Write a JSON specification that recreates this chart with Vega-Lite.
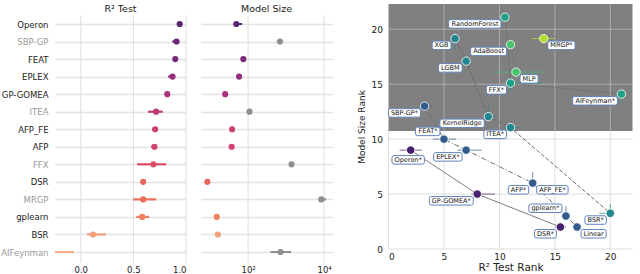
{
  "$schema": "https://vega.github.io/schema/vega-lite/v6.json",
  "padding": {"left": 0, "top": 3, "right": 0, "bottom": 0},
  "background": "white",
  "config": {
    "view": {"stroke": null},
    "font": "DejaVu Sans",
    "axis": {"domain": false, "ticks": false, "labelFont": "DejaVu Sans", "titleFont": "DejaVu Sans", "labelColor": "#222222", "titleColor": "#222222", "titleFontWeight": "normal"},
    "title": {"font": "DejaVu Sans", "fontSize": 9.5, "fontWeight": "normal", "color": "#222222"}
  },
  "datasets": {
    "algos": [
      {"name": "Operon", "r2": 0.94, "r2lo": 0.925, "r2hi": 0.96, "size": 49, "sizelo": 45, "sizehi": 70},
      {"name": "SBP-GP", "r2": 0.91, "r2lo": 0.87, "r2hi": 0.935, "size": 690, "sizelo": 690, "sizehi": 690},
      {"name": "FEAT", "r2": 0.898, "r2lo": 0.885, "r2hi": 0.91, "size": 75, "sizelo": 75, "sizehi": 75},
      {"name": "EPLEX", "r2": 0.872, "r2lo": 0.83, "r2hi": 0.895, "size": 58, "sizelo": 58, "sizehi": 58},
      {"name": "GP-GOMEA", "r2": 0.822, "r2lo": 0.805, "r2hi": 0.84, "size": 25, "sizelo": 25, "sizehi": 25},
      {"name": "ITEA", "r2": 0.717, "r2lo": 0.64, "r2hi": 0.78, "size": 109, "sizelo": 109, "sizehi": 109},
      {"name": "AFP_FE", "r2": 0.707, "r2lo": 0.68, "r2hi": 0.73, "size": 38, "sizelo": 38, "sizehi": 38},
      {"name": "AFP", "r2": 0.70, "r2lo": 0.67, "r2hi": 0.725, "size": 37, "sizelo": 37, "sizehi": 37},
      {"name": "FFX", "r2": 0.69, "r2lo": 0.536, "r2hi": 0.812, "size": 1390, "sizelo": 1390, "sizehi": 1390},
      {"name": "DSR", "r2": 0.593, "r2lo": 0.575, "r2hi": 0.61, "size": 8.5, "sizelo": 8.5, "sizehi": 8.5},
      {"name": "MRGP", "r2": 0.593, "r2lo": 0.498, "r2hi": 0.717, "size": 8400, "sizelo": 8000, "sizehi": 11300},
      {"name": "gplearn", "r2": 0.584, "r2lo": 0.527, "r2hi": 0.65, "size": 15, "sizelo": 15, "sizehi": 15},
      {"name": "BSR", "r2": 0.117, "r2lo": 0.06, "r2hi": 0.24, "size": 16, "sizelo": 16, "sizehi": 16},
      {"name": "AIFeynman", "r2": -0.5, "r2lo": -1.2, "r2hi": -0.065, "size": 713, "sizelo": 388, "sizehi": 1360}
    ],
    "ranks": [
      {"label": "Operon*", "xr": 2, "yr": 9, "front": 1, "xlo": 1.0, "xhi": 3.0, "ylo": 9, "yhi": 9},
      {"label": "GP-GOMEA*", "xr": 8, "yr": 5, "front": 1, "xlo": 7.5, "xhi": 9.6, "ylo": 5, "yhi": 5},
      {"label": "DSR*", "xr": 15.5, "yr": 2, "front": 1, "xlo": 15, "xhi": 16, "ylo": 2, "yhi": 2},
      {"label": "SBP-GP*", "xr": 3.25, "yr": 13, "front": 2, "xlo": 2.9, "xhi": 4.0, "ylo": 13, "yhi": 13},
      {"label": "FEAT*", "xr": 5, "yr": 10, "front": 2, "xlo": 4.0, "xhi": 6.1, "ylo": 10, "yhi": 10},
      {"label": "EPLEX*", "xr": 7, "yr": 9, "front": 2, "xlo": 6.2, "xhi": 8.4, "ylo": 9, "yhi": 9},
      {"label": "AFP*", "xr": 13, "yr": 6, "front": 2, "xlo": 13, "xhi": 13, "ylo": 6, "yhi": 7.0},
      {"label": "AFP_FE*", "xr": 13, "yr": 6, "front": 2, "xlo": 13, "xhi": 13, "ylo": 6, "yhi": 6},
      {"label": "gplearn*", "xr": 16, "yr": 3, "front": 2, "xlo": 16, "xhi": 16, "ylo": 2.6, "yhi": 3.9},
      {"label": "Linear", "xr": 17, "yr": 2, "front": 2, "xlo": 17, "xhi": 17, "ylo": 2, "yhi": 2},
      {"label": "XGB", "xr": 6, "yr": 19.15, "front": 3, "xlo": 6, "xhi": 6, "ylo": 18.1, "yhi": 19.15},
      {"label": "LGBM", "xr": 7, "yr": 17.1, "front": 3, "xlo": 7, "xhi": 7, "ylo": 17.1, "yhi": 17.1},
      {"label": "KernelRidge", "xr": 9, "yr": 12.05, "front": 3, "xlo": 8.6, "xhi": 9.8, "ylo": 12.05, "yhi": 13.0},
      {"label": "ITEA*", "xr": 11, "yr": 11.05, "front": 3, "xlo": 10.4, "xhi": 11.9, "ylo": 11.05, "yhi": 11.05},
      {"label": "BSR*", "xr": 20, "yr": 3.25, "front": 3, "xlo": 19.0, "xhi": 20, "ylo": 3.25, "yhi": 4.1},
      {"label": "RandomForest", "xr": 10.5, "yr": 21.1, "front": 4, "xlo": 10.5, "xhi": 10.5, "ylo": 21.1, "yhi": 21.1},
      {"label": "FFX*", "xr": 11, "yr": 15.1, "front": 4, "xlo": 11, "xhi": 13.8, "ylo": 14.4, "yhi": 15.1},
      {"label": "AIFeynman*", "xr": 21, "yr": 14.1, "front": 4, "xlo": 21, "xhi": 21, "ylo": 13.3, "yhi": 14.1},
      {"label": "AdaBoost", "xr": 11, "yr": 18.6, "front": 5, "xlo": 11, "xhi": 11, "ylo": 18.6, "yhi": 18.6},
      {"label": "MLP", "xr": 11.5, "yr": 16.1, "front": 5, "xlo": 9.4, "xhi": 14.0, "ylo": 16.1, "yhi": 16.1},
      {"label": "MRGP*", "xr": 14, "yr": 19.15, "front": 6, "xlo": 12.9, "xhi": 15.0, "ylo": 19.15, "yhi": 19.15}
    ],
    "grid": [{"g": 0}, {"g": 5}, {"g": 10}, {"g": 15}, {"g": 20}],
    "r2ticks": [{"t": 0}, {"t": 0.5}, {"t": 1}],
    "sizeticks": [{"t": 100}, {"t": 10000}]
  },
  "resolve": {"scale": {"x": "independent", "y": "independent", "color": "independent", "shape": "independent", "strokeDash": "independent"}},
  "spacing": 23.5,
  "hconcat": [
    {
      "spacing": 13.5,
      "resolve": {"scale": {"x": "independent", "y": "independent", "color": "independent"}},
      "hconcat": [
        {
          "title": {"text": "R² Test", "offset": -9},
          "width": 131,
          "height": 259,
          "layer": [
            {"data": {"name": "r2ticks"}, "mark": {"type": "rule", "color": "#dedede", "strokeWidth": 1, "yOffset": -8.5, "y2Offset": 11},
             "encoding": {
               "x": {"field": "t", "type": "quantitative", "title": null, "scale": {"domain": [-0.245, 1.0], "nice": false, "zero": false},
                 "axis": {"values": [0, 0.5, 1], "format": ".1f", "title": null, "grid": false, "labelFontSize": 8.5, "labelPadding": 2}},
               "y": {"datum": "Operon", "type": "nominal", "scale": {"type": "point", "range": [20, 248], "padding": 0}, "title": null},
               "y2": {"datum": "AIFeynman"}}},
            {"data": {"name": "algos"}, "mark": {"type": "rule", "strokeWidth": 2.2, "clip": true},
             "encoding": {
               "x": {"field": "r2lo", "type": "quantitative", "title": null, "scale": {"domain": [-0.245, 1.0], "nice": false, "zero": false}},
               "x2": {"field": "r2hi"},
               "y": {"field": "name", "type": "nominal", "sort": ["Operon", "SBP-GP", "FEAT", "EPLEX", "GP-GOMEA", "ITEA", "AFP_FE", "AFP", "FFX", "DSR", "MRGP", "gplearn", "BSR", "AIFeynman"], "scale": {"type": "point", "range": [20, 248], "padding": 0},
                 "axis": {"title": null, "grid": true, "gridColor": "#e3e3e3", "gridWidth": 1.5, "labelFontSize": 8.5, "labelPadding": 7,
                   "labelColor": {"condition": {"test": "indexof(['SBP-GP','ITEA','FFX','MRGP','AIFeynman'], datum.value) >= 0", "value": "#999999"}, "value": "#222222"}}},
               "color": {"field": "name", "type": "nominal", "legend": null,
                 "scale": {"domain": ["Operon", "SBP-GP", "FEAT", "EPLEX", "GP-GOMEA", "ITEA", "AFP_FE", "AFP", "FFX", "DSR", "MRGP", "gplearn", "BSR", "AIFeynman"],
                   "range": ["#5a2474", "#6a2878", "#79297a", "#922d7c", "#aa327c", "#c03a78", "#cb3e72", "#d3446c", "#db4d66", "#e6665e", "#ea705a", "#ee8262", "#f29f7a", "#f5ac8a"]}}}},
            {"data": {"name": "algos"}, "mark": {"type": "circle", "size": 38, "opacity": 1, "clip": true},
             "encoding": {
               "x": {"field": "r2", "type": "quantitative", "title": null, "scale": {"domain": [-0.245, 1.0], "nice": false, "zero": false}},
               "y": {"field": "name", "type": "nominal", "sort": ["Operon", "SBP-GP", "FEAT", "EPLEX", "GP-GOMEA", "ITEA", "AFP_FE", "AFP", "FFX", "DSR", "MRGP", "gplearn", "BSR", "AIFeynman"], "scale": {"type": "point", "range": [20, 248], "padding": 0}, "title": null},
               "color": {"field": "name", "type": "nominal", "legend": null,
                 "scale": {"domain": ["Operon", "SBP-GP", "FEAT", "EPLEX", "GP-GOMEA", "ITEA", "AFP_FE", "AFP", "FFX", "DSR", "MRGP", "gplearn", "BSR", "AIFeynman"],
                   "range": ["#5a2474", "#6a2878", "#79297a", "#922d7c", "#aa327c", "#c03a78", "#cb3e72", "#d3446c", "#db4d66", "#e6665e", "#ea705a", "#ee8262", "#f29f7a", "#f5ac8a"]}}}}
          ]
        },
        {
          "title": {"text": "Model Size", "offset": -9},
          "width": 132,
          "height": 259,
          "layer": [
            {"data": {"name": "sizeticks"}, "mark": {"type": "rule", "color": "#dedede", "strokeWidth": 1, "yOffset": -8.5, "y2Offset": 11},
             "encoding": {
               "x": {"field": "t", "type": "quantitative", "title": null, "scale": {"type": "log", "domain": [5.6, 16600], "nice": false},
                 "axis": {"values": [100, 10000], "labelExpr": "datum.value == 100 ? '10²' : '10⁴'", "title": null, "grid": false, "labelFontSize": 8.5, "labelPadding": 2}},
               "y": {"datum": "Operon", "type": "nominal", "scale": {"type": "point", "range": [20, 248], "padding": 0}, "title": null},
               "y2": {"datum": "AIFeynman"}}},
            {"data": {"name": "algos"}, "mark": {"type": "rule", "strokeWidth": 2.2, "clip": true},
             "encoding": {
               "x": {"field": "sizelo", "type": "quantitative", "title": null, "scale": {"type": "log", "domain": [5.6, 16600], "nice": false}},
               "x2": {"field": "sizehi"},
               "y": {"field": "name", "type": "nominal", "sort": ["Operon", "SBP-GP", "FEAT", "EPLEX", "GP-GOMEA", "ITEA", "AFP_FE", "AFP", "FFX", "DSR", "MRGP", "gplearn", "BSR", "AIFeynman"], "scale": {"type": "point", "range": [20, 248], "padding": 0},
                 "axis": {"title": null, "grid": true, "gridColor": "#e3e3e3", "gridWidth": 1.5, "labels": false}},
               "color": {"condition": {"test": "indexof(['SBP-GP','ITEA','FFX','MRGP','AIFeynman'], datum.name) >= 0", "value": "#8f8f8f"},
                 "field": "name", "type": "nominal", "legend": null,
                 "scale": {"domain": ["Operon", "SBP-GP", "FEAT", "EPLEX", "GP-GOMEA", "ITEA", "AFP_FE", "AFP", "FFX", "DSR", "MRGP", "gplearn", "BSR", "AIFeynman"],
                   "range": ["#5a2474", "#6a2878", "#79297a", "#922d7c", "#aa327c", "#c03a78", "#cb3e72", "#d3446c", "#db4d66", "#e6665e", "#ea705a", "#ee8262", "#f29f7a", "#f5ac8a"]}}}},
            {"data": {"name": "algos"}, "mark": {"type": "circle", "size": 38, "opacity": 1, "clip": true},
             "encoding": {
               "x": {"field": "size", "type": "quantitative", "title": null, "scale": {"type": "log", "domain": [5.6, 16600], "nice": false}},
               "y": {"field": "name", "type": "nominal", "sort": ["Operon", "SBP-GP", "FEAT", "EPLEX", "GP-GOMEA", "ITEA", "AFP_FE", "AFP", "FFX", "DSR", "MRGP", "gplearn", "BSR", "AIFeynman"], "scale": {"type": "point", "range": [20, 248], "padding": 0}, "title": null},
               "color": {"condition": {"test": "indexof(['SBP-GP','ITEA','FFX','MRGP','AIFeynman'], datum.name) >= 0", "value": "#8f8f8f"},
                 "field": "name", "type": "nominal", "legend": null,
                 "scale": {"domain": ["Operon", "SBP-GP", "FEAT", "EPLEX", "GP-GOMEA", "ITEA", "AFP_FE", "AFP", "FFX", "DSR", "MRGP", "gplearn", "BSR", "AIFeynman"],
                   "range": ["#5a2474", "#6a2878", "#79297a", "#922d7c", "#aa327c", "#c03a78", "#cb3e72", "#d3446c", "#db4d66", "#e6665e", "#ea705a", "#ee8262", "#f29f7a", "#f5ac8a"]}}}}
          ]
        }
      ]
    },
    {
      "width": 244,
      "height": 245,
      "layer": [
        {"data": {"values": [{}]}, "mark": {"type": "rect", "color": "#808080", "opacity": 1},
         "encoding": {"x": {"datum": 0, "type": "quantitative", "title": "R² Test Rank", "scale": {"domain": [0, 22], "nice": false, "zero": false}},
           "x2": {"datum": 22},
           "y": {"datum": 10.75, "type": "quantitative", "title": "Model Size Rank", "scale": {"domain": [0, 22.3], "nice": false, "zero": false}},
           "y2": {"datum": 22.3}}},
        {"data": {"name": "grid"}, "mark": {"type": "rule", "color": "#c6c6c6", "opacity": 0.6, "strokeWidth": 1},
         "encoding": {"x": {"field": "g", "type": "quantitative", "title": "R² Test Rank", "scale": {"domain": [0, 22], "nice": false, "zero": false}}}},
        {"data": {"name": "grid"}, "mark": {"type": "rule", "color": "#c6c6c6", "opacity": 0.6, "strokeWidth": 1},
         "encoding": {"y": {"field": "g", "type": "quantitative", "title": "Model Size Rank", "scale": {"domain": [0, 22.3], "nice": false, "zero": false}}}},
        {"data": {"name": "ranks"}, "mark": {"type": "rule", "strokeWidth": 1, "opacity": 0.7},
         "encoding": {"x": {"field": "xlo", "type": "quantitative", "title": "R² Test Rank", "scale": {"domain": [0, 22], "nice": false, "zero": false}},
           "x2": {"field": "xhi"},
           "y": {"field": "yr", "type": "quantitative", "title": "Model Size Rank", "scale": {"domain": [0, 22.3], "nice": false, "zero": false}},
           "color": {"field": "front", "type": "ordinal", "legend": null, "scale": {"domain": [1, 2, 3, 4, 5, 6], "range": ["#46226e", "#325a8c", "#21868d", "#1fa187", "#4ac16d", "#b5de2b"]}}}},
        {"data": {"name": "ranks"}, "mark": {"type": "rule", "strokeWidth": 1, "opacity": 0.7},
         "encoding": {"x": {"field": "xr", "type": "quantitative", "title": "R² Test Rank", "scale": {"domain": [0, 22], "nice": false, "zero": false}},
           "y": {"field": "ylo", "type": "quantitative", "title": "Model Size Rank", "scale": {"domain": [0, 22.3], "nice": false, "zero": false}},
           "y2": {"field": "yhi"},
           "color": {"field": "front", "type": "ordinal", "legend": null, "scale": {"domain": [1, 2, 3, 4, 5, 6], "range": ["#46226e", "#325a8c", "#21868d", "#1fa187", "#4ac16d", "#b5de2b"]}}}},
        {"data": {"name": "ranks"}, "mark": {"type": "line", "color": "#6a6a6a", "strokeWidth": 1},
         "encoding": {"x": {"field": "xr", "type": "quantitative", "title": "R² Test Rank", "scale": {"domain": [0, 22], "nice": false, "zero": false}},
           "y": {"field": "yr", "type": "quantitative", "title": "Model Size Rank", "scale": {"domain": [0, 22.3], "nice": false, "zero": false}},
           "detail": {"field": "front", "type": "ordinal"},
           "strokeDash": {"field": "front", "type": "ordinal", "legend": null, "scale": {"domain": [1, 2, 3, 4, 5, 6], "range": [[1, 0], [5, 2, 1, 2], [4, 2], [1.5, 1.5], [1.5, 1.5], [1, 0]]}},
           "order": {"field": "xr", "type": "quantitative"}}},
        {"data": {"name": "ranks"}, "mark": {"type": "circle", "size": 70, "opacity": 1, "stroke": "white", "strokeWidth": 0.8},
         "encoding": {"x": {"field": "xr", "type": "quantitative", "title": "R² Test Rank", "scale": {"domain": [0, 22], "nice": false, "zero": false},
             "axis": {"values": [0, 5, 10, 15, 20], "grid": false, "labelFontSize": 9, "labelPadding": 3, "title": "R² Test Rank", "titleFontSize": 10.5, "titlePadding": 1}},
           "y": {"field": "yr", "type": "quantitative", "title": "Model Size Rank", "scale": {"domain": [0, 22.3], "nice": false, "zero": false},
             "axis": {"values": [0, 5, 10, 15, 20], "grid": false, "labelFontSize": 9, "labelPadding": 6, "title": "Model Size Rank", "titleFontSize": 9, "titlePadding": 5}},
           "color": {"field": "front", "type": "ordinal", "legend": null, "scale": {"domain": [1, 2, 3, 4, 5, 6], "range": ["#46226e", "#325a8c", "#21868d", "#1fa187", "#4ac16d", "#b5de2b"]}}}},
        {"data": {"name": "ranks"}, "mark": {"type": "point", "filled": true, "fill": "white", "stroke": "#5f83bd", "strokeWidth": 1, "size": 4, "opacity": 1},
         "encoding": {"x": {"field": "xr", "type": "quantitative", "title": "R² Test Rank", "scale": {"domain": [0, 22], "nice": false, "zero": false}},
           "y": {"field": "yr", "type": "quantitative", "title": "Model Size Rank", "scale": {"domain": [0, 22.3], "nice": false, "zero": false}},
           "shape": {"field": "label", "type": "nominal", "legend": null,
             "scale": {
               "domain": ["RandomForest", "XGB", "LGBM", "AdaBoost", "AIFeynman*", "SBP-GP*", "KernelRidge", "ITEA*", "EPLEX*", "AFP*", "BSR*", "DSR*", "GP-GOMEA*", "FFX*", "MRGP*", "MLP", "AFP_FE*", "Linear", "FEAT*", "gplearn*", "Operon*"],
               "range": [
                 "M-54.4 2.5H-6Q-4 2.5 -4 4.5V9Q-4 11 -6 11H-54.4Q-56.4 11 -56.4 9V4.5Q-56.4 2.5 -54.4 2.5Z",
                 "M-20.9 2.5H-6Q-4 2.5 -4 4.5V9Q-4 11 -6 11H-20.9Q-22.9 11 -22.9 9V4.5Q-22.9 2.5 -20.9 2.5Z",
                 "M-25.7 2.5H-6Q-4 2.5 -4 4.5V9Q-4 11 -6 11H-25.7Q-27.7 11 -27.7 9V4.5Q-27.7 2.5 -25.7 2.5Z",
                 "M-37.9 2.5H-6Q-4 2.5 -4 4.5V9Q-4 11 -6 11H-37.9Q-39.9 11 -39.9 9V4.5Q-39.9 2.5 -37.9 2.5Z",
                 "M-46.8 2.5H-6Q-4 2.5 -4 4.5V9Q-4 11 -6 11H-46.8Q-48.8 11 -48.8 9V4.5Q-48.8 2.5 -46.8 2.5Z",
                 "M-34.1 2.5H-6Q-4 2.5 -4 4.5V9Q-4 11 -6 11H-34.1Q-36.1 11 -36.1 9V4.5Q-36.1 2.5 -34.1 2.5Z",
                 "M-46.4 2.5H-6Q-4 2.5 -4 4.5V9Q-4 11 -6 11H-46.4Q-48.4 11 -48.4 9V4.5Q-48.4 2.5 -46.4 2.5Z",
                 "M-24.7 2.5H-6Q-4 2.5 -4 4.5V9Q-4 11 -6 11H-24.7Q-26.7 11 -26.7 9V4.5Q-26.7 2.5 -24.7 2.5Z",
                 "M-30.5 2.5H-6Q-4 2.5 -4 4.5V9Q-4 11 -6 11H-30.5Q-32.5 11 -32.5 9V4.5Q-32.5 2.5 -30.5 2.5Z",
                 "M-22.4 2.5H-6Q-4 2.5 -4 4.5V9Q-4 11 -6 11H-22.4Q-24.4 11 -24.4 9V4.5Q-24.4 2.5 -22.4 2.5Z",
                 "M-23.4 2.5H-6Q-4 2.5 -4 4.5V9Q-4 11 -6 11H-23.4Q-25.4 11 -25.4 9V4.5Q-25.4 2.5 -23.4 2.5Z",
                 "M-23.9 2.5H-6Q-4 2.5 -4 4.5V9Q-4 11 -6 11H-23.9Q-25.9 11 -25.9 9V4.5Q-25.9 2.5 -23.9 2.5Z",
                 "M-45.9 2.5H-6Q-4 2.5 -4 4.5V9Q-4 11 -6 11H-45.9Q-47.9 11 -47.9 9V4.5Q-47.9 2.5 -45.9 2.5Z",
                 "M-22.2 2.5H-6Q-4 2.5 -4 4.5V9Q-4 11 -6 11H-22.2Q-24.2 11 -24.2 9V4.5Q-24.2 2.5 -22.2 2.5Z",
                 "M6 2.5H29.3Q31.3 2.5 31.3 4.5V9Q31.3 11 29.3 11H6Q4 11 4 9V4.5Q4 2.5 6 2.5Z",
                 "M6 2.5H20.1Q22.1 2.5 22.1 4.5V9Q22.1 11 20.1 11H6Q4 11 4 9V4.5Q4 2.5 6 2.5Z",
                 "M6 2.5H33.4Q35.4 2.5 35.4 4.5V9Q35.4 11 33.4 11H6Q4 11 4 9V4.5Q4 2.5 6 2.5Z",
                 "M6 2.5H27.2Q29.2 2.5 29.2 4.5V9Q29.2 11 27.2 11H6Q4 11 4 9V4.5Q4 2.5 6 2.5Z",
                 "M-26.5 -12H-6Q-4 -12 -4 -10V-5.5Q-4 -3.5 -6 -3.5H-26.5Q-28.5 -3.5 -28.5 -5.5V-10Q-28.5 -12 -26.5 -12Z",
                 "M-35.1 -12H-6Q-4 -12 -4 -10V-5.5Q-4 -3.5 -6 -3.5H-35.1Q-37.1 -3.5 -37.1 -5.5V-10Q-37.1 -12 -35.1 -12Z",
                 "M-16.7 5.5H11.7Q13.7 5.5 13.7 7.5V12Q13.7 14 11.7 14H-16.7Q-18.7 14 -18.7 12V7.5Q-18.7 5.5 -16.7 5.5Z"
               ]}}}},
        {"data": {"name": "ranks"},
         "transform": [{"filter": {"field": "label", "oneOf": ["RandomForest", "XGB", "LGBM", "AdaBoost", "AIFeynman*", "SBP-GP*", "KernelRidge", "ITEA*", "EPLEX*", "AFP*", "BSR*", "DSR*", "GP-GOMEA*", "FFX*"]}}],
         "mark": {"type": "text", "align": "right", "baseline": "middle", "dx": -6.5, "dy": 6.75, "fontSize": 6.5, "font": "DejaVu Sans", "color": "#111111"},
         "encoding": {"x": {"field": "xr", "type": "quantitative", "title": "R² Test Rank", "scale": {"domain": [0, 22], "nice": false, "zero": false}},
           "y": {"field": "yr", "type": "quantitative", "title": "Model Size Rank", "scale": {"domain": [0, 22.3], "nice": false, "zero": false}},
           "text": {"field": "label"}}},
        {"data": {"name": "ranks"},
         "transform": [{"filter": {"field": "label", "oneOf": ["MRGP*", "MLP", "AFP_FE*", "Linear"]}}],
         "mark": {"type": "text", "align": "left", "baseline": "middle", "dx": 6.5, "dy": 6.75, "fontSize": 6.5, "font": "DejaVu Sans", "color": "#111111"},
         "encoding": {"x": {"field": "xr", "type": "quantitative", "title": "R² Test Rank", "scale": {"domain": [0, 22], "nice": false, "zero": false}},
           "y": {"field": "yr", "type": "quantitative", "title": "Model Size Rank", "scale": {"domain": [0, 22.3], "nice": false, "zero": false}},
           "text": {"field": "label"}}},
        {"data": {"name": "ranks"},
         "transform": [{"filter": {"field": "label", "oneOf": ["FEAT*", "gplearn*"]}}],
         "mark": {"type": "text", "align": "right", "baseline": "middle", "dx": -6.5, "dy": -7.75, "fontSize": 6.5, "font": "DejaVu Sans", "color": "#111111"},
         "encoding": {"x": {"field": "xr", "type": "quantitative", "title": "R² Test Rank", "scale": {"domain": [0, 22], "nice": false, "zero": false}},
           "y": {"field": "yr", "type": "quantitative", "title": "Model Size Rank", "scale": {"domain": [0, 22.3], "nice": false, "zero": false}},
           "text": {"field": "label"}}},
        {"data": {"name": "ranks"},
         "transform": [{"filter": {"field": "label", "oneOf": ["Operon*"]}}],
         "mark": {"type": "text", "align": "center", "baseline": "middle", "dx": -2.5, "dy": 9.75, "fontSize": 6.5, "font": "DejaVu Sans", "color": "#111111"},
         "encoding": {"x": {"field": "xr", "type": "quantitative", "title": "R² Test Rank", "scale": {"domain": [0, 22], "nice": false, "zero": false}},
           "y": {"field": "yr", "type": "quantitative", "title": "Model Size Rank", "scale": {"domain": [0, 22.3], "nice": false, "zero": false}},
           "text": {"field": "label"}}}
      ]
    }
  ]
}
